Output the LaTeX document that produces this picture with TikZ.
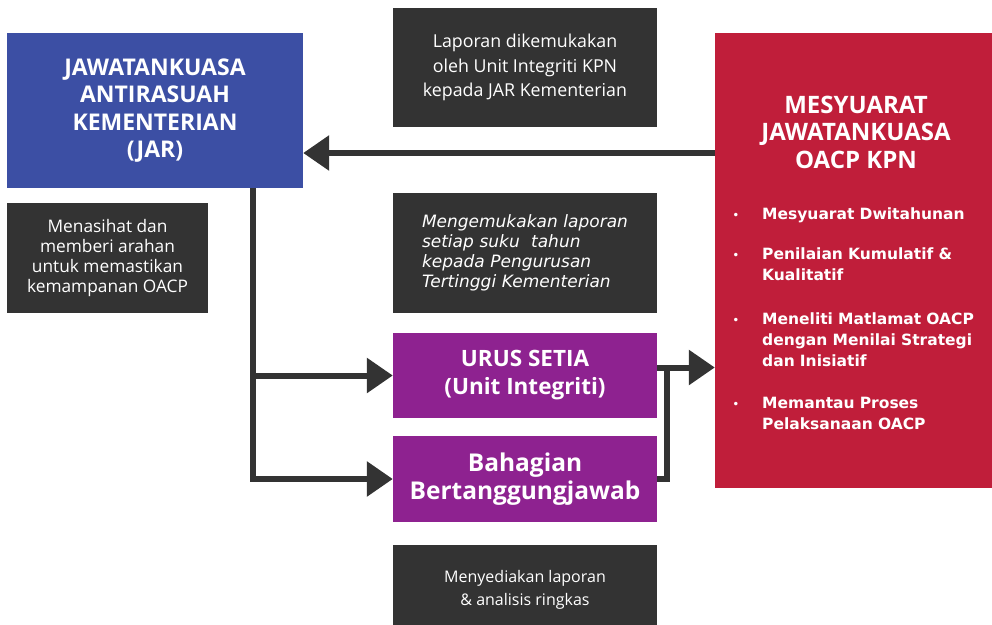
\documentclass[tikz,border=0pt]{standalone}
\usepackage{fontspec}
\setmainfont{Open Sans}
\newfontfamily\verdanalike{DejaVu Sans}
\usetikzlibrary{arrows.meta}
\definecolor{jarblue}{HTML}{3C4FA4}
\definecolor{oacpred}{HTML}{C01E3A}
\definecolor{setiapurple}{HTML}{8E2290}
\definecolor{notegrey}{HTML}{333333}
\definecolor{linegrey}{HTML}{333333}
\tikzstyle{jarbox} = [rectangle, minimum width=296pt, minimum height=155pt, text centered, align=center, fill=jarblue, text=white, font=\bfseries\fontsize{23}{27.5}\selectfont]
\tikzstyle{redbox} = [rectangle, minimum width=277pt, minimum height=455pt, fill=oacpred]
\tikzstyle{note} = [rectangle, minimum width=264pt, minimum height=119pt, text centered, align=center, fill=notegrey, text=white, font=\fontsize{17.8}{24.5}\selectfont]
\tikzstyle{process} = [rectangle, minimum width=264pt, minimum height=85pt, text centered, align=center, fill=setiapurple, text=white, font=\bfseries\fontsize{22.5}{28}\selectfont]
\tikzstyle{bullet} = [anchor=base west, text=white, text width=225pt, align=left, inner sep=0pt, font=\verdanalike\bfseries\fontsize{15.5}{21}\selectfont]
\tikzstyle{arrow} = [line width=6pt, draw=linegrey, -{Triangle[length=26pt,width=34pt]}]
\tikzstyle{line} = [line width=6pt, draw=linegrey]
\begin{document}
\begin{tikzpicture}[x=1pt, y=-1pt]
        \useasboundingbox (0,0) rectangle (992,624);
        % boxes
        \node (jar) [jarbox] at (155,110.5) {JAWATANKUASA\\ANTIRASUAH\\KEMENTERIAN\\(JAR)};
        \node (nasihat) [note, minimum width=201pt, minimum height=110pt, font=\fontsize{17.3}{20}\selectfont] at (107.5,258) {Menasihat dan\\memberi arahan\\untuk memastikan\\kemampanan OACP};
        \node (laporjar) [note] at (525,67.5) {Laporan dikemukakan\\oleh Unit Integriti KPN\\kepada JAR Kementerian};
        \node (suku) [note, align=left, text width=206pt, inner xsep=29pt, minimum height=120pt, font=\verdanalike\itshape\fontsize{17}{20}\selectfont] at (525,253) {Mengemukakan laporan\\setiap suku~~tahun\\kepada Pengurusan\\Tertinggi Kementerian};
        \node (urus) [process] at (525,375.5) {URUS SETIA\\(Unit Integriti)};
        \node (bahagian) [process, minimum height=86pt, font=\bfseries\fontsize{24.5}{28}\selectfont] at (525,479) {Bahagian\\Bertanggungjawab};
        \node (ringkas) [note, minimum height=90pt, font=\fontsize{16}{23}\selectfont] at (525,590) {Menyediakan laporan\\\&~analisis ringkas};
        \node (oacp) [redbox] at (853.5,260.5) {};
        \node (oacptitle) [text=white, align=center, font=\bfseries\fontsize{24}{27.5}\selectfont] at (856,132) {MESYUARAT\\JAWATANKUASA\\OACP KPN};
        % bullet points
        \foreach \y/\name/\txt in {219/dwi/{Mesyuarat Dwitahunan},
                                   259/nilai/{Penilaian Kumulatif \&\\Kualitatif},
                                   324/teliti/{Meneliti Matlamat OACP\\dengan Menilai Strategi\\dan Inisiatif},
                                   408/pantau/{Memantau Proses\\Pelaksanaan OACP}} {
            \node (\name) [bullet] at (762,\y) {\txt};
            \node (dot\name) [anchor=base, inner sep=0pt, text=white, font=\verdanalike\fontsize{12}{12}\selectfont] at (736,\y) {•};
        }
        % connectors
        \coordinate (lapor) at (0,153);
        \draw [arrow] (oacp.west |- lapor) -- (jar.east |- lapor);
        \draw [arrow] ([xshift=98pt]jar.south) |- (bahagian.west);
        \draw [arrow] ([xshift=98pt]jar.south |- urus.west) -- (urus.west);
        \draw [arrow] ([yshift=8pt]urus.east) -- ([yshift=8pt]urus.east -| oacp.west);
        \draw [line] (bahagian.east) -- ++(10,0) |- ([yshift=8pt]urus.east);
\end{tikzpicture}
\end{document}
